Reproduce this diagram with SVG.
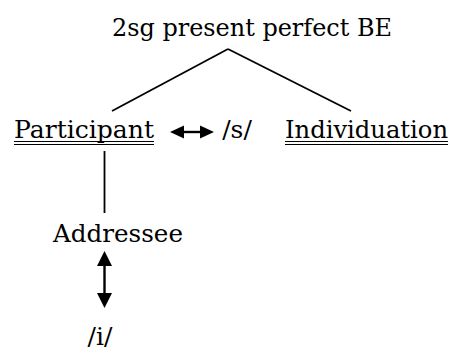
<svg xmlns="http://www.w3.org/2000/svg" width="461" height="353" viewBox="0 0 461 353">
<style>
text{font-family:"DejaVu Serif","Liberation Serif",serif;font-size:25px;fill:#000}
.ln{stroke:#000;stroke-width:1.8;fill:none}
.ul{stroke:#000;stroke-width:1;fill:none}
.ar{stroke:#000;stroke-width:2.4;fill:none}
.hd{fill:#000}
</style>
<rect width="461" height="353" fill="#fff"/>
<g id="connectors">
<line class="ln" x1="228" y1="49" x2="112" y2="111"/>
<line class="ln" x1="228" y1="49" x2="351" y2="111"/>
<line class="ln" x1="104.5" y1="151" x2="104.5" y2="213"/>
<g id="arrow-s">
<line class="ar" x1="178" y1="132" x2="206" y2="132"/>
<polygon class="hd" points="170,132 184,125.5 184,138.5"/>
<polygon class="hd" points="214,132 200,125.5 200,138.5"/>
</g>
<g id="arrow-i">
<line class="ar" x1="104.5" y1="262" x2="104.5" y2="298"/>
<polygon class="hd" points="104.5,251 97,266 112,266"/>
<polygon class="hd" points="104.5,308 97,293 112,293"/>
</g>
</g>
<g id="root"><text x="112" y="36" textLength="280" lengthAdjust="spacingAndGlyphs">2sg present perfect BE</text></g>
<g id="participant">
<text x="14" y="138" textLength="140" lengthAdjust="spacingAndGlyphs">Participant</text>
<line class="ul" x1="14" y1="141.5" x2="154" y2="141.5"/>
<line class="ul" x1="14" y1="144.5" x2="154" y2="144.5"/>
</g>
<g id="s"><text x="237" y="138" text-anchor="middle">/s/</text></g>
<g id="individuation">
<text x="285" y="138" textLength="163" lengthAdjust="spacingAndGlyphs">Individuation</text>
<line class="ul" x1="285" y1="141.5" x2="448" y2="141.5"/>
<line class="ul" x1="285" y1="144.5" x2="448" y2="144.5"/>
</g>
<g id="addressee"><text x="53" y="242" textLength="130" lengthAdjust="spacingAndGlyphs">Addressee</text></g>
<g id="i"><text x="100" y="345" text-anchor="middle">/i/</text></g>
</svg>
